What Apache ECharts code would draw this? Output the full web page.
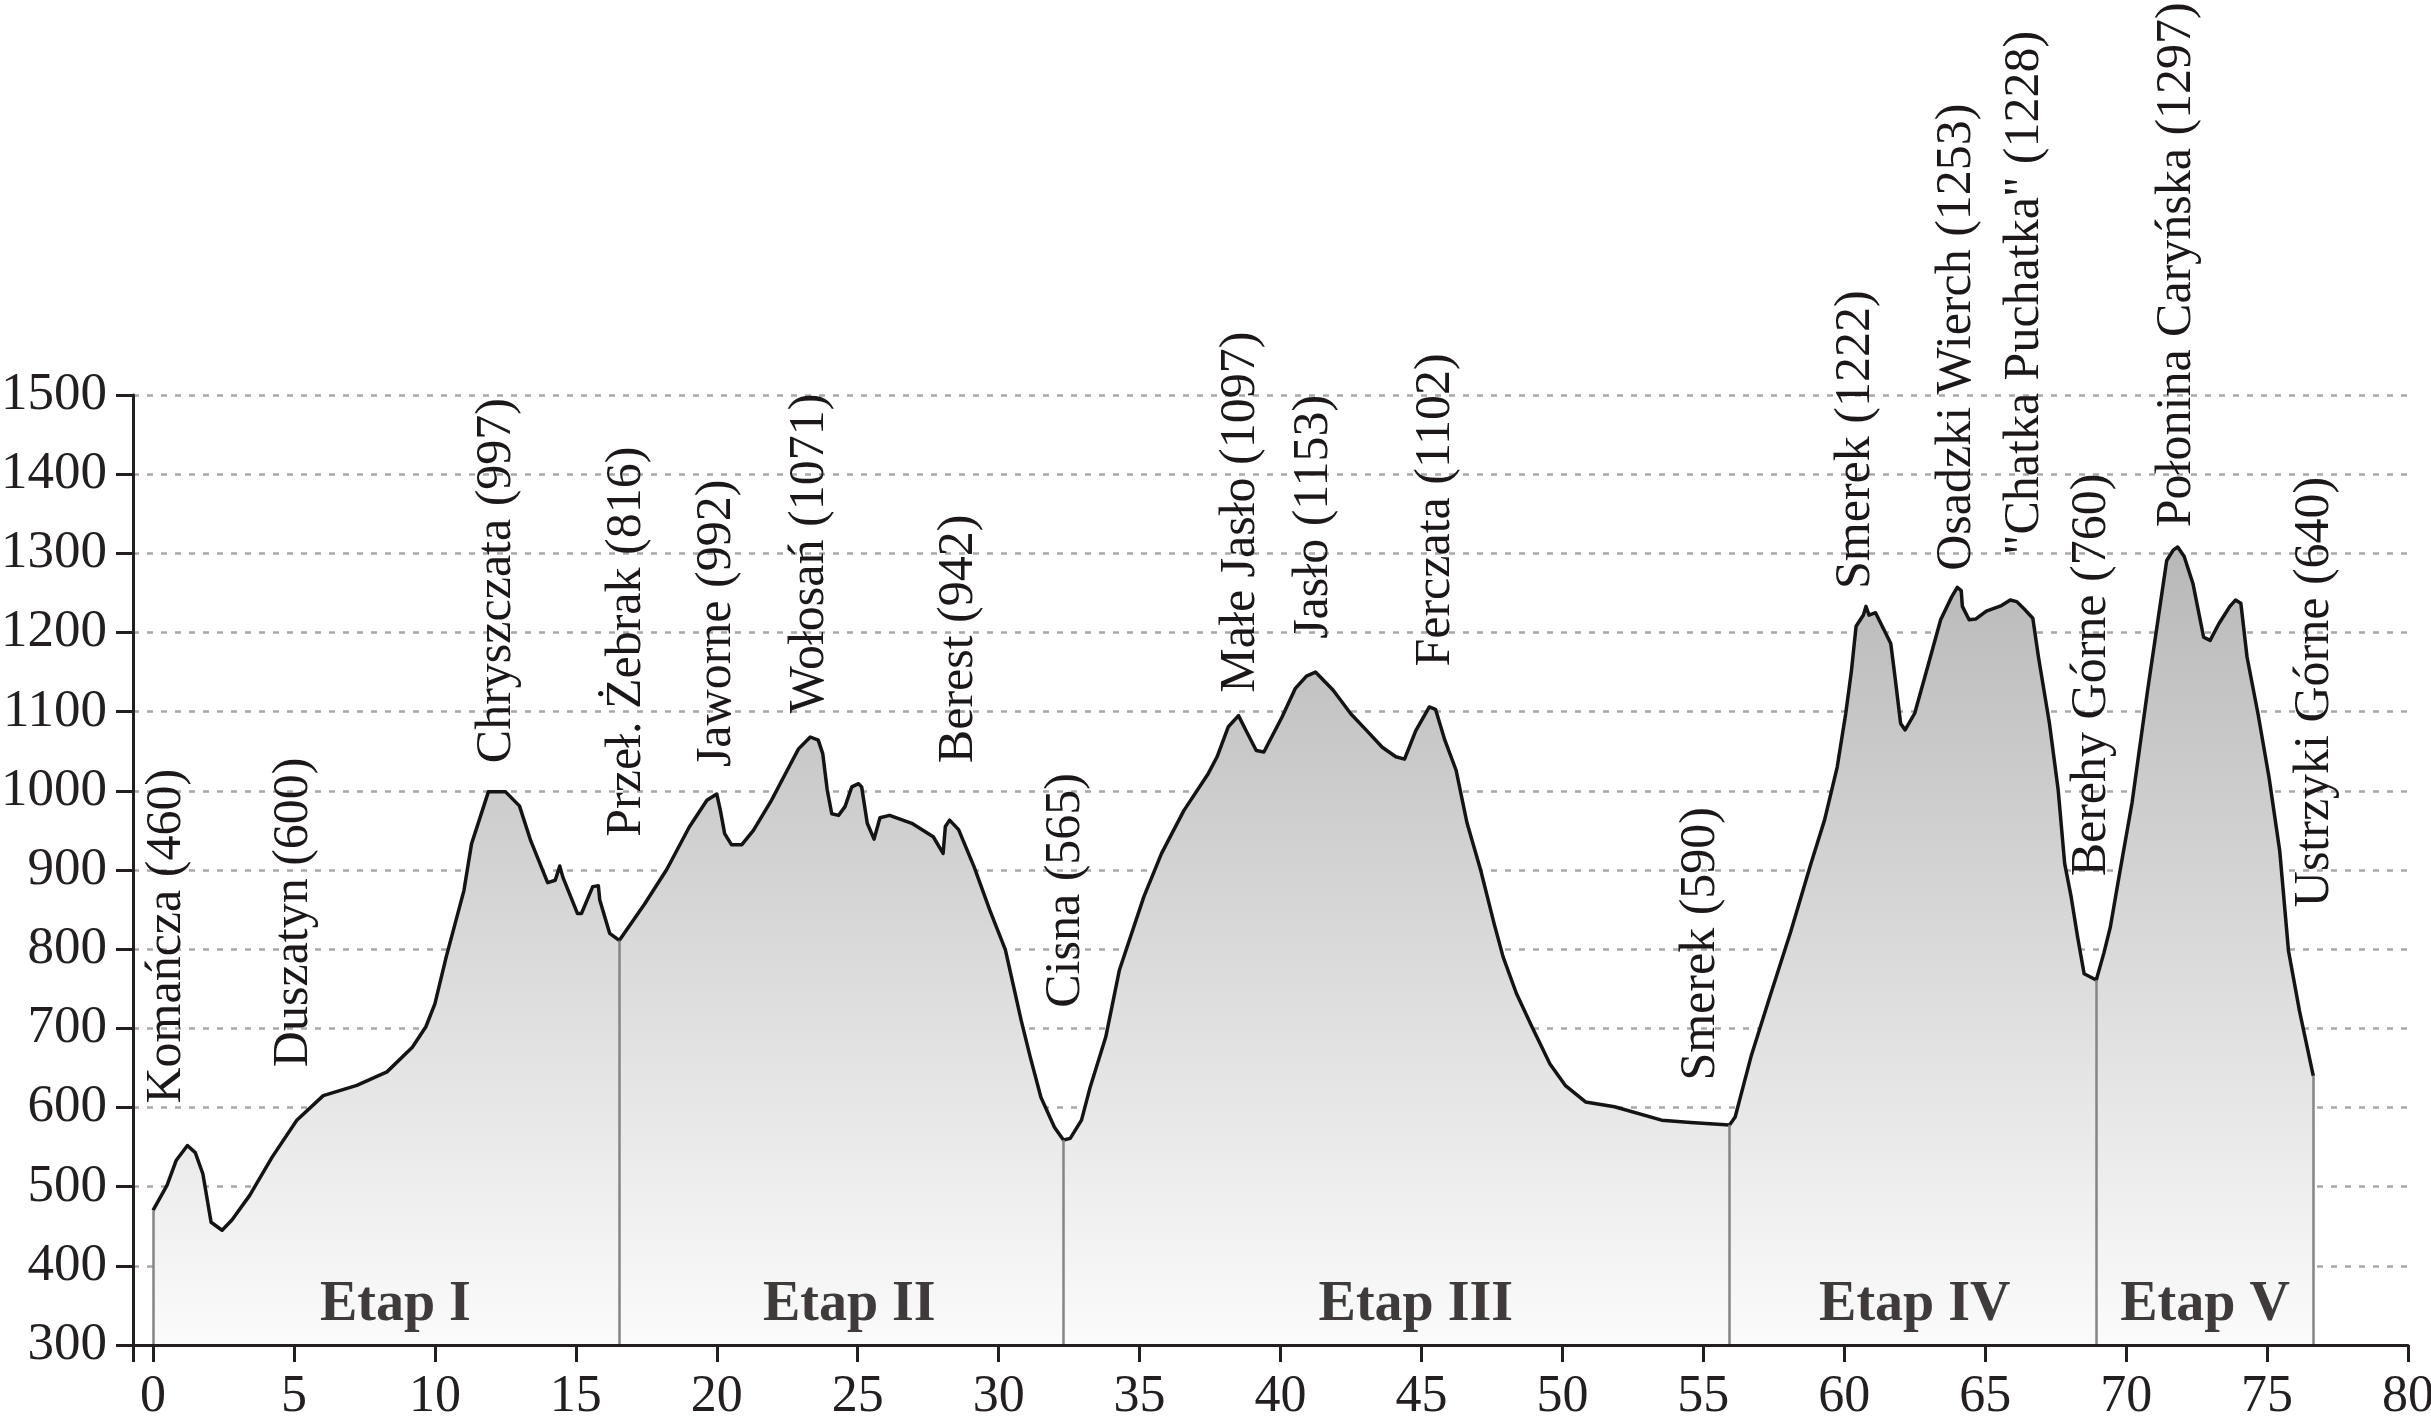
<!DOCTYPE html>
<html>
<head>
<meta charset="utf-8">
<script src="https://cdn.jsdelivr.net/npm/echarts@6/dist/echarts.min.js"></script>
<style>
html,body{margin:0;padding:0;background:#fff;}
#chart{width:2431px;height:1417px;}
</style>
</head>
<body>
<div id="chart"></div>
<script>
// Elevation profile (distance km, elevation m)
const profileKm = [0,0.5,0.82,1.22,1.5,1.77,2.06,2.45,2.8,3.43,4.22,5.1,6.04,7.23,8.3,9.2,9.68,10.0,10.4,11.03,11.3,11.9,12.5,13.0,13.4,14.0,14.27,14.43,14.54,15.06,15.2,15.6,15.8,15.85,16.2,16.54,
17.44,18.23,19.02,19.65,20.0,20.13,20.28,20.52,20.89,21.3,21.94,22.5,22.9,23.32,23.6,23.76,23.92,24.08,24.32,24.55,24.79,25.03,25.14,25.34,25.58,25.79,26.13,26.92,27.68,28.03,28.11,28.26,28.58,29.13,29.69,30.24,30.8,31.12,31.5,31.98,32.3,
32.54,32.94,33.25,33.8,34.28,35.15,35.78,36.57,37.44,37.75,38.15,38.51,38.78,39.14,39.41,40.05,40.52,40.92,41.24,41.87,42.5,43.06,43.61,44.09,44.4,44.8,45.28,45.5,45.83,46.23,46.62,47.1,47.58,47.9,48.37,48.92,49.56,50.1,50.82,51.85,53.52,54.55,55.93,
56.13,56.69,57.36,58.1,58.8,59.3,59.75,60.05,60.25,60.42,60.68,60.77,60.88,61.11,61.65,61.8,62.0,62.16,62.5,62.93,63.42,63.81,64.01,64.15,64.19,64.43,64.66,65.04,65.58,65.89,66.12,66.43,66.69,66.89,67.28,67.59,67.82,68.05,68.28,68.51,68.94,
69.21,69.44,69.75,70.21,70.75,71.13,71.44,71.67,71.83,72.06,72.37,72.75,72.98,73.29,73.68,73.88,74.07,74.29,74.68,75.07,75.45,75.76,76.15,76.64];
const profileElev = [470,502,533,552,543,516,455,445,458,489,537,584,615,628,645,676,702,731,790,874,933,999,999,981,937,884,887,905,891,845,845,879,880,862,820,811,
857,901,954,988,996,975,946,932,932,950,988,1026,1053,1068,1064,1047,1001,971,969,980,1005,1009,1005,959,939,966,969,959,942,921,955,963,951,904,849,799,710,664,613,575,559,
561,584,626,689,773,866,921,975,1022,1043,1081,1095,1076,1051,1049,1093,1129,1145,1150,1127,1097,1076,1055,1043,1040,1076,1106,1103,1064,1026,959,900,832,790,744,702,655,628,607,601,584,581,578,
588,664,740,822,906,963,1030,1097,1150,1208,1222,1233,1222,1225,1186,1144,1085,1077,1098,1153,1216,1245,1257,1253,1233,1216,1217,1227,1234,1241,1239,1228,1218,1169,1085,1001,908,866,815,769,761,
795,828,892,985,1124,1216,1291,1304,1308,1296,1262,1194,1190,1211,1233,1241,1237,1169,1097,1017,924,798,722,640];

// Stage boundaries (km, elevation)
const boundaryKm = [0, 16.54, 32.3, 55.93, 68.94, 76.64];
const boundaryElev = [470, 811, 559, 578, 761, 640];

// Place names with elevations, label anchor (km) and base (m)
const placeNames = ['Komańcza (460)','Duszatyn (600)','Chryszczata (997)','Przeł. Żebrak (816)','Jaworne (992)','Wołosań (1071)','Berest (942)','Cisna (565)','Małe Jasło (1097)','Jasło (1153)','Ferczata (1102)','Smerek (590)','Smerek (1222)','Osadzki Wierch (1253)','"Chatka Puchatka" (1228)','Berehy Górne (760)','Połonina Caryńska (1297)','Ustrzyki Górne (640)'];
const placeKm = [0.5, 5.0, 12.2, 16.8, 20.0, 23.3, 28.6, 32.4, 38.6, 41.2, 45.5, 54.9, 60.4, 64.0, 66.4, 68.8, 71.8, 76.7];
const placeBase = [605, 651, 1035, 942, 1030, 1098, 1035, 726, 1124, 1192, 1157, 634, 1255, 1278, 1298, 892, 1333, 853];

// Stage labels
const stageNames = ['Etap I','Etap II','Etap III','Etap IV','Etap V'];
const stageKm = [8.6, 24.7, 44.8, 62.5, 72.8];
const stageElev = [350, 350, 350, 350, 350];

// Axis ticks
const xTicks = [0,5,10,15,20,25,30,35,40,45,50,55,60,65,70,75,80];
const xMin = -0.71;

const serif = '"Liberation Serif", "Times New Roman", serif';
const chart = echarts.init(document.getElementById('chart'));

const profile = profileKm.map((k, i) => [k, profileElev[i]]);
const boundaryLines = boundaryKm.map((k, i) => [{coord: [k, 300]}, {coord: [k, boundaryElev[i]]}]);

chart.setOption({
  animation: false,
  backgroundColor: '#ffffff',
  grid: {left: 133, right: 23, top: 395, bottom: 72, containLabel: false, outerBoundsMode: 'none'},
  xAxis: {
    type: 'value', min: xMin, max: 80, z: 10,
    axisLine: {show: true, onZero: false, lineStyle: {color: '#231f20', width: 3}},
    axisTick: {show: true, length: 17, lineStyle: {color: '#231f20', width: 3}, customValues: [xMin].concat(xTicks)},
    axisLabel: {show: true, customValues: xTicks, margin: 26, fontFamily: serif, fontSize: 52, color: '#231f20', formatter: v => String(v)},
    splitLine: {show: false}
  },
  yAxis: {
    type: 'value', min: 300, max: 1500, interval: 100,
    axisLine: {show: true, onZero: false, lineStyle: {color: '#231f20', width: 3}},
    axisTick: {show: true, length: 17, lineStyle: {color: '#231f20', width: 3}},
    axisLabel: {margin: 26, fontFamily: serif, fontSize: 53, color: '#231f20', formatter: v => String(v)},
    splitLine: {show: true, lineStyle: {color: '#a8a8a8', width: 2.5, type: [6, 8]}}
  },
  series: [
    {
      type: 'line',
      data: profile,
      showSymbol: false,
      symbol: 'none',
      lineStyle: {color: '#141414', width: 3.5, join: 'round'},
      areaStyle: {
        origin: 'start',
        opacity: 1,
        color: new echarts.graphic.LinearGradient(0, 0, 0, 1, [
          {offset: 0, color: '#b8b8b8'},
          {offset: 1, color: '#fbfbfb'}
        ])
      },
      markLine: {
        silent: true,
        symbol: ['none', 'none'],
        label: {show: false},
        lineStyle: {color: '#858585', width: 2.5, type: 'solid'},
        data: boundaryLines
      },
      z: 3
    },
    {
      type: 'scatter',
      symbol: 'circle',
      symbolSize: 1,
      itemStyle: {color: 'rgba(0,0,0,0)', opacity: 1},
      data: placeKm.map((k, i) => ({value: [k, placeBase[i]], name: placeNames[i]})),
      label: {
        show: true,
        position: 'inside',
        rotate: 90,
        align: 'left',
        verticalAlign: 'middle',
        formatter: p => p.name,
        fontFamily: serif,
        fontSize: 50,
        color: '#1c1819',
        opacity: 1
      },
      z: 5
    },
    {
      type: 'scatter',
      symbol: 'circle',
      symbolSize: 1,
      itemStyle: {color: 'rgba(0,0,0,0)', opacity: 1},
      data: stageKm.map((k, i) => ({value: [k, stageElev[i]], name: stageNames[i]})),
      label: {
        show: true,
        position: 'inside',
        align: 'center',
        verticalAlign: 'middle',
        formatter: p => p.name,
        fontFamily: serif,
        fontSize: 56,
        fontWeight: 'bold',
        color: '#3f3b3b',
        opacity: 1
      },
      z: 5
    }
  ]
});
</script>
</body>
</html>
